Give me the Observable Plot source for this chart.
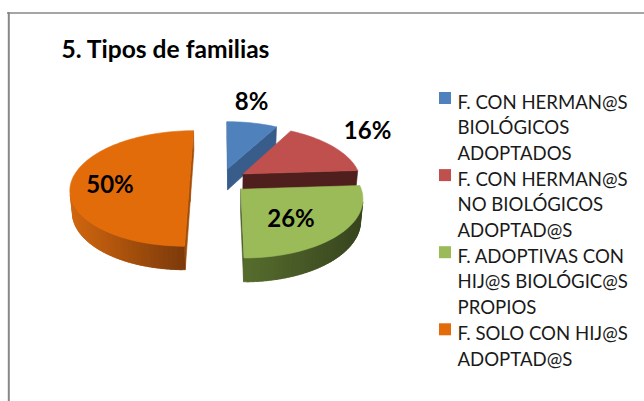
<!DOCTYPE html>
<html><head><meta charset="utf-8">
<script src="https://cdn.jsdelivr.net/npm/d3@7"></script>
<script src="https://cdn.jsdelivr.net/npm/@observablehq/plot@0.6"></script>
<style>html,body{margin:0;padding:0;background:#fff;overflow:hidden}</style>
</head><body><div id="chart"></div>
<script>
// ---- data ----
const title = "5. Tipos de familias";
const categories = [
  "F. CON HERMAN@S\nBIOLÓGICOS\nADOPTADOS",
  "F. CON HERMAN@S\nNO BIOLÓGICOS\nADOPTAD@S",
  "F. ADOPTIVAS CON\nHIJ@S BIOLÓGIC@S\nPROPIOS",
  "F. SOLO CON HIJ@S\nADOPTAD@S"
];
const values = [8, 16, 26, 50];
const labels = ["8%", "16%", "26%", "50%"];

// ---- styles / layout ----
const W = 644, H = 401;
const topColors  = ["#4F81BD", "#C0504D", "#9BBB59", "#E36C0A"];
const faceColors = ["#385D8A", "#4F1F1E", "#4A5E27", "#A34E08"];
const wallLight  = ["#3F6797", "#8E3B39", "#566C2D", "#D0660F"];
const wallDark   = ["#2C4A6E", "#5E2726", "#37441E", "#7A390A"];
const explode = [0.22, 0.22, 0.22, 0.27];
const labelR  = [1.5, 1.4, 0.65, 0.65];
const labelDx = [-11, 2, -12, -3];
const labelDy = [-2, -5, 2, 5];
const P = {cx: 221, cy: 180, F: 749, D: 6.35, sinA: 0.48, cosA: 0.877, h: 0.21};
const font = "Lato, 'Open Sans', sans-serif";
const legendFS = 18.6, lineH = 25.7, legendX = 457, legendY0 = 103;
const titleFS = 24.6, labelFS = 24;

function proj(X, Y, Z) {
  const d = P.D + Z * P.cosA - Y * P.sinA;
  const up = Z * P.sinA + Y * P.cosA;
  return [P.cx + P.F * X / d, P.cy - P.F * up / d];
}
const cam = [0, P.D * P.sinA, -P.D * P.cosA];
function visible(n, p) {
  return n[0]*(cam[0]-p[0]) + n[1]*(cam[1]-p[1]) + n[2]*(cam[2]-p[2]) > 0;
}

const arcs = d3.pie().sort(null).startAngle(0).endAngle(2 * Math.PI)(values);
const slices = arcs.map((p, i) => {
  const mid = (p.startAngle + p.endAngle) / 2, e = explode[i];
  return {i, a0: p.startAngle, a1: p.endAngle, mid, ox: e * Math.sin(mid), oz: e * Math.cos(mid)};
});
function pt(s, a, r, Y) { return proj(s.ox + r * Math.sin(a), Y, s.oz + r * Math.cos(a)); }

const polys = [];
let pid = 0;
function addPoly(pts, color) {
  const id = pid++;
  for (const [x, y] of [...pts, pts[0]]) polys.push({id, x, y, color});
}
const order = [0, 1, 3, 2];
const step = Math.PI / 90;
for (const k of order) {
  const s = slices[k];
  const n = Math.max(2, Math.ceil((s.a1 - s.a0) / step));
  const angles = d3.range(n + 1).map(j => s.a0 + (s.a1 - s.a0) * j / n);
  for (const [a, sign] of [[s.a0, -1], [s.a1, 1]]) {
    const nrm = [sign * Math.cos(a), 0, -sign * Math.sin(a)];
    if (visible(nrm, [s.ox, 0, s.oz]))
      addPoly([pt(s, a, 0, 0), pt(s, a, 1, 0), pt(s, a, 1, -P.h), pt(s, a, 0, -P.h)], faceColors[k]);
  }
  const strips = [];
  for (let j = 0; j < n; j++) {
    const a = (angles[j] + angles[j + 1]) / 2;
    const nrm = [Math.sin(a), 0, Math.cos(a)];
    if (visible(nrm, [s.ox + Math.sin(a), -P.h / 2, s.oz + Math.cos(a)])) strips.push([angles[j], angles[j + 1]]);
  }
  if (strips.length) {
    const xs = strips.flatMap(([b, c]) => [pt(s, b, 1, 0)[0], pt(s, c, 1, 0)[0]]);
    const xmin = d3.min(xs), xmax = d3.max(xs);
    const ci = d3.interpolateRgb(wallLight[k], wallDark[k]);
    const lo = d3.min(strips, d => d[0]), hi = d3.max(strips, d => d[1]);
    for (const [b, c] of strips) {
      const xm = (pt(s, b, 1, 0)[0] + pt(s, c, 1, 0)[0]) / 2;
      const b2 = Math.max(lo, b - step * 0.4), c2 = Math.min(hi, c + step * 0.4);
      addPoly([pt(s, b2, 1, 0), pt(s, c2, 1, 0), pt(s, c2, 1, -P.h), pt(s, b2, 1, -P.h)],
              d3.rgb(ci((xm - xmin) / ((xmax - xmin) || 1))).formatHex());
    }
  }
  addPoly([pt(s, 0, 0, 0), ...angles.map(a => pt(s, a, 1, 0))], topColors[k]);
}

const labelPos = slices.map((s, i) => {
  const [x, y] = pt(s, s.mid, labelR[i], 0);
  return {x: x + labelDx[i], y: y + labelDy[i], text: labels[i]};
});

const nLines = categories.map(c => c.split("\n").length);
const legendRows = categories.map((c, i) => ({
  text: c, color: topColors[i],
  base: legendY0 + d3.sum(nLines.slice(0, i)) * lineH
}));

const chart = Plot.plot({
  width: W, height: H, margin: 0,
  x: {domain: [0, W], range: [0, W], axis: null},
  y: {domain: [0, H], range: [0, H], axis: null},
  color: {type: "identity"},
  style: {fontFamily: font, background: "#fff", color: "#000"},
  marks: [
    Plot.ruleY([12.5], {x1: 7, x2: W, stroke: "#878787", strokeWidth: 1.5}),
    Plot.ruleX([8.3], {y1: 12, y2: H, stroke: "#878787", strokeWidth: 2}),
    Plot.line(polys, {x: "x", y: "y", z: "id", fill: "color", stroke: "color", strokeWidth: 0.6, curve: "linear"}),
    Plot.text(labelPos, {x: "x", y: "y", text: "text", fontSize: labelFS, fontWeight: "bold", fill: "#000", textAnchor: "middle", lineAnchor: "middle"}),
    Plot.text([title], {x: 61, y: 57 - 0.32 * titleFS, text: d => d, fontSize: titleFS, fontWeight: "bold", fill: "#000", textAnchor: "start", lineAnchor: "middle"}),
    Plot.rect(legendRows, {x1: 439, x2: 451, y1: d => d.base - 11, y2: d => d.base + 1, fill: "color"}),
    Plot.text(legendRows, {x: legendX, y: d => d.base - 0.71 * legendFS, text: "text", fontSize: legendFS, fill: "#1a1a1a", textAnchor: "start", lineAnchor: "top", lineHeight: lineH / legendFS})
  ]
});
document.getElementById("chart").append(chart);
</script>
</body></html>
